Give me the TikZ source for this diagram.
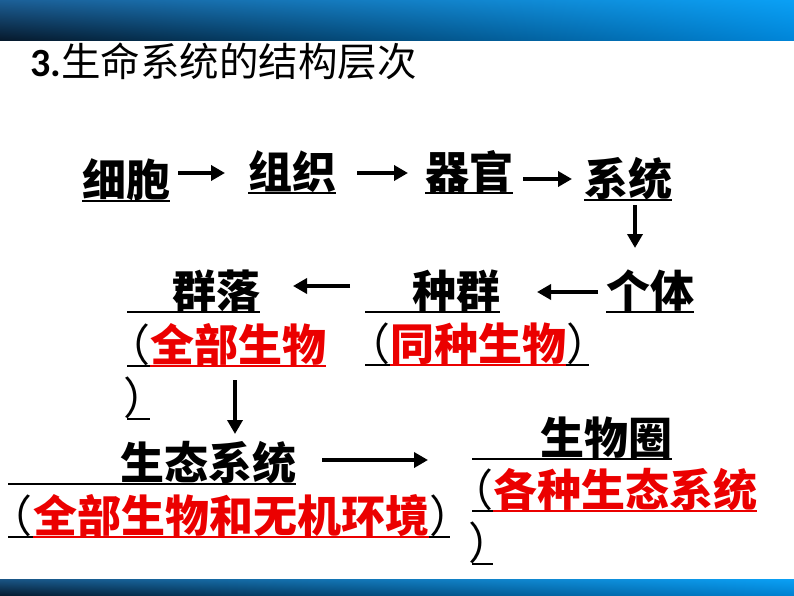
\documentclass[tikz,border=0pt]{standalone}
\usepackage{fontspec}
\newfontfamily\cjk{Noto Sans CJK SC}
\newfontfamily\latinb{Carlito}
\usetikzlibrary{arrows.meta,calc,shadings}
\definecolor{myred}{RGB}{235,0,0}
\definecolor{ulA}{RGB}{28,95,150}
\definecolor{llA}{RGB}{6,24,42}
\definecolor{urA}{RGB}{10,160,245}
\definecolor{lrA}{RGB}{0,133,216}
\definecolor{ulB}{RGB}{26,85,133}
\definecolor{llB}{RGB}{5,26,46}
\definecolor{lrB}{RGB}{0,128,208}
\newcommand{\lpar}{\makebox[22pt][r]{（}}
\newcommand{\rpar}{\makebox[22pt][l]{）}}
\tikzset{
  txt/.style={inner sep=0pt, outer sep=0pt, anchor=base west, font=\cjk\bfseries\fontsize{44}{50}\selectfont},
  redtxt/.style={txt, text=myred},
  paren/.style={inner sep=0pt, outer sep=0pt, anchor=base west, font=\cjk\fontsize{44}{50}\selectfont},
  ul/.style={line width=2pt},
  redul/.style={line width=2pt, draw=myred},
  arr/.style={line width=4pt, -{Triangle[length=14pt,width=15pt]}}
}
\begin{document}
\begin{tikzpicture}[x=1pt,y=-1pt]
\useasboundingbox (0,0) rectangle (794,596);
% bars
\shade[upper left=ulA, lower left=llA, upper right=urA, lower right=lrA] (0,0) rectangle (794,41);
\shade[upper left=ulB, lower left=llB, upper right=urA, lower right=lrB] (0,579) rectangle (794,596);
% title
\node[anchor=base west, inner sep=0pt] (title) at (30,77)
  {{\latinb\bfseries\fontsize{40}{44}\selectfont 3.}{\cjk\fontsize{39.5}{44}\selectfont 生命系统的结构层次}};
% row 1
\node[txt] (xibao) at (82,196) {细胞};
\node[txt] (zuzhi) at (248,188) {组织};
\node[txt] (qiguan) at (425,188) {器官};
\node[txt] (xitong) at (584,195) {系统};
\foreach \n in {xibao,zuzhi,qiguan,xitong}
  \draw[ul] ($(\n.base west)+(0,5)$) -- ($(\n.base east)+(0,5)$);
\draw[arr] ($(xibao.base east)+(8,-23)$) -- ($(zuzhi.base west)+(-23,-15)$);
\draw[arr] ($(zuzhi.base east)+(21,-15)$) -- ($(qiguan.base west)+(-17,-15)$);
\draw[arr] ($(qiguan.base east)+(10,-9)$) -- ($(xitong.base west)+(-12,-16)$);
% row 2
\node[txt] (geti) at (606,307) {个体};
\node[txt] (zhongqun) at (412,307) {种群};
\node[txt] (qunluo) at (172,307) {群落};
\draw[ul] ($(geti.base west)+(0,5)$) -- ($(geti.base east)+(0,5)$);
\draw[ul] (365,312) -- ($(zhongqun.base east)+(0,5)$);
\draw[ul] (127,312) -- ($(qunluo.base east)+(0,5)$);
\draw[arr] ($(xitong.base)+(7,10)$) -- ($(geti.base)+(-15,-59)$);
\draw[arr] ($(geti.base west)+(-8,-15)$) -- ($(zhongqun.base east)+(37,-15)$);
\draw[arr] ($(zhongqun.base west)+(-62,-21)$) -- ($(qunluo.base east)+(33,-21)$);
% (同种生物)
\node[redtxt] (tongzhong) at (390,360) {同种生物};
\node[paren, anchor=base east] (tzl) at (tongzhong.base west) {\lpar};
\node[paren] (tzr) at (tongzhong.base east) {\rpar};
\draw[ul] (365,365) -- ($(tongzhong.base east)+(23,5)$);
\draw[redul] ($(tongzhong.base west)+(0,5)$) -- ($(tongzhong.base east)+(0,5)$);
% (全部生物 / )
\node[redtxt] (quanbu) at (150,361) {全部生物};
\node[paren, anchor=base east] (qbl) at (quanbu.base west) {\lpar};
\draw[ul] (127,366) -- ($(quanbu.base west)+(0,5)$);
\draw[redul] ($(quanbu.base west)+(0,5)$) -- ($(quanbu.base east)+(0,5)$);
\node[paren] (qbr) at (123,414) {\rpar};
\draw[ul] (127,419) -- (150,419);
% row 3
\node[txt] (shengtai) at (120,479) {生态系统};
\draw[ul] (8,484) -- ($(shengtai.base east)+(0,5)$);
\draw[arr] ($(quanbu.base west)+(85,19)$) -- ($(shengtai.base west)+(115,-45)$);
\node[redtxt] (huanjing) at (33,532) {全部生物和无机环境};
\node[paren, anchor=base east] (hjl) at (huanjing.base west) {\lpar};
\node[paren] (hjr) at (huanjing.base east) {\rpar};
\draw[ul] (8,537) -- ($(huanjing.base east)+(21,5)$);
\draw[redul] ($(huanjing.base west)+(0,5)$) -- ($(huanjing.base east)+(0,5)$);
\node[txt] (swq) at (540,454) {生物圈};
\draw[ul] (472,459) -- ($(swq.base east)+(0,5)$);
\draw[arr] ($(shengtai.base east)+(26,-19)$) -- ($(swq.base west)+(-112,6)$);
\node[redtxt] (gezhong) at (493,506) {各种生态系统};
\node[paren, anchor=base east] (gzl) at (gezhong.base west) {\lpar};
\draw[ul] (472,511) -- ($(gezhong.base west)+(0,5)$);
\draw[redul] ($(gezhong.base west)+(0,5)$) -- ($(gezhong.base east)+(0,5)$);
\node[paren] (gzr) at (468,559) {\rpar};
\draw[ul] (472,564) -- (493,564);
\end{tikzpicture}
\end{document}
